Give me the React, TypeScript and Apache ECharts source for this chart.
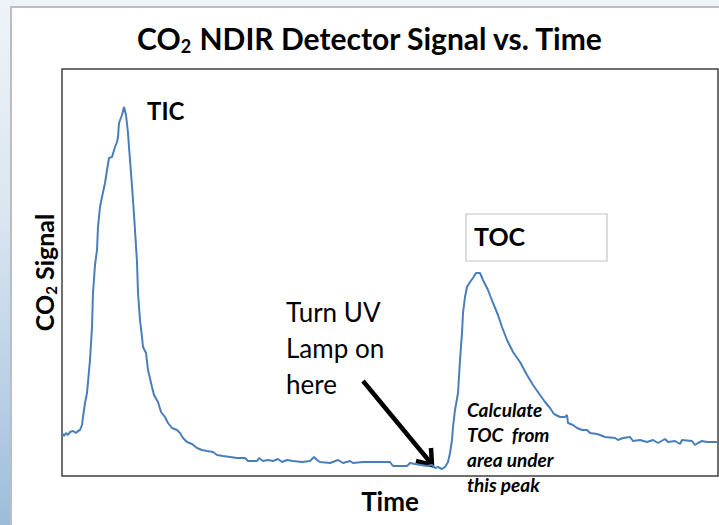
import React, { useEffect, useRef } from "react";
import * as echarts from "echarts";

// Time (arbitrary units) and CO2 signal (arbitrary units)
const time = [
  0, 2, 4, 6, 8, 11, 14, 16, 18, 20, 21, 23, 25, 28, 30, 31, 33, 35, 36, 38, 40, 43, 45, 47, 50, 53, 55, 56, 57, 60,
  62, 64, 66, 67, 69, 71, 73, 75, 76, 78, 80, 81, 84, 86, 90, 92, 96, 99, 103, 106, 110, 115, 118, 121, 125, 130,
  135, 140, 145, 151, 155, 161, 168, 175, 183, 186, 195, 197, 201, 206, 211, 216, 220, 225, 231, 240, 248, 252, 255,
  258, 268, 276, 281, 288, 291, 301, 315, 328, 331, 345, 348, 353, 365, 370, 373, 376, 380, 383, 386, 388, 390, 391,
  393, 396, 398, 400, 401, 403, 405, 408, 411, 414, 418, 421, 426, 431, 436, 440, 445, 451, 458, 465, 471, 478, 483,
  488, 492, 498, 503, 505, 506, 511, 515, 520, 525, 528, 535, 538, 543, 553, 556, 561, 568, 571, 578, 585, 591, 596,
  603, 606, 613, 618, 620, 630, 633, 636, 640, 645, 653, 656,
];
const signal = [
  43, 40, 43, 41, 44, 45, 43, 45, 46, 51, 59, 73, 83, 116, 149, 183, 211, 226, 249, 269, 279, 293, 306, 318, 319, 329,
  334, 339, 353, 361, 369, 361, 343, 329, 303, 276, 246, 214, 183, 156, 139, 129, 123, 106, 89, 81, 74, 64, 59, 53,
  48, 46, 43, 38, 34, 32, 28, 26, 25, 24, 21, 20, 19, 18, 18, 15, 15, 18, 15, 16, 15, 17, 14, 16, 15, 14, 15, 19, 16,
  14, 13, 16, 13, 15, 13, 14, 14, 14, 10, 10, 13, 12, 10, 11, 8, 9, 7, 9, 14, 23, 36, 49, 66, 83, 116, 143, 163, 179,
  189, 194, 198, 203, 203, 196, 186, 173, 161, 149, 136, 124, 114, 101, 91, 81, 74, 68, 62, 59, 59, 61, 53, 51, 48,
  46, 46, 43, 42, 41, 39, 38, 36, 38, 39, 35, 36, 34, 36, 33, 37, 34, 35, 32, 36, 35, 31, 33, 35, 34, 34, 34,
];

const titleText = "{a|CO}{s|2}{a| NDIR Detector Signal vs. Time}";
const yName = "{a|CO}{s|2}{a| Signal}";
const xName = "Time";
const ticLabel = "TIC";
const tocLabel = "TOC";
const uvNote = "Turn UV\nLamp on\nhere";
const calcNote = "Calculate\nTOC  from\narea under\nthis peak";

const FONT = "Lato, 'Open Sans', sans-serif";

export default function App() {
  const ref = useRef<HTMLDivElement>(null);
  useEffect(() => {
    if (!ref.current) return;
    const chart = echarts.init(ref.current, undefined, { renderer: "svg" });
    const data = time.map((t, i) => [t, signal[i]]);
    const tip = [432, 465];
    chart.setOption({
      animation: false,
      grid: {
        left: 62,
        top: 69,
        width: 656,
        height: 407,
        show: true,
        borderColor: "#404040",
        borderWidth: 1.5,
        backgroundColor: "#ffffff",
      },
      xAxis: {
        type: "value",
        min: 0,
        max: 656,
        axisLine: { show: false },
        axisTick: { show: false },
        axisLabel: { show: false },
        splitLine: { show: false },
        name: xName,
        nameLocation: "middle",
        nameGap: 12,
        nameTextStyle: { fontFamily: FONT, fontWeight: "bold", fontSize: 26, color: "#000" },
      },
      yAxis: {
        type: "value",
        min: 0,
        max: 407,
        axisLine: { show: false },
        axisTick: { show: false },
        axisLabel: { show: false },
        splitLine: { show: false },
        name: yName,
        nameLocation: "middle",
        nameRotate: 90,
        nameGap: 4,
        nameTextStyle: {
          rich: {
            a: { fontFamily: FONT, fontWeight: "bold", fontSize: 25, color: "#000", lineHeight: 28 },
            s: { fontFamily: FONT, fontWeight: "bold", fontSize: 15, color: "#000", lineHeight: 15, padding: [14, 0, 0, 0] },
          },
        },
      },
      series: [
        {
          type: "line",
          data,
          showSymbol: false,
          lineStyle: { color: "#4a7ebb", width: 2 },
          itemStyle: { color: "#4a7ebb" },
        },
      ],
      graphic: [
        {
          type: "text",
          x: 370,
          y: 38,
          style: {
            text: titleText,
            align: "center",
            verticalAlign: "middle",
            rich: {
              a: { fontFamily: FONT, fontWeight: "bold", fontSize: 30, fill: "#000", lineHeight: 34 },
              s: { fontFamily: FONT, fontWeight: "bold", fontSize: 18, fill: "#000", lineHeight: 18, padding: [16, 0, 0, 0] },
            },
          },
        },
        {
          type: "text",
          x: 147,
          y: 110,
          style: { text: ticLabel, fontFamily: FONT, fontWeight: "bold", fontSize: 24, fill: "#000", verticalAlign: "middle" },
        },
        {
          type: "rect",
          shape: { x: 466, y: 214, width: 141, height: 47 },
          style: { fill: "#fff", stroke: "#c4c4c4", lineWidth: 1.2 },
        },
        {
          type: "text",
          x: 474,
          y: 236,
          style: { text: tocLabel, fontFamily: FONT, fontWeight: "bold", fontSize: 25, fill: "#000", verticalAlign: "middle" },
        },
        {
          type: "text",
          x: 286,
          y: 294,
          style: { text: uvNote, fontFamily: FONT, fontSize: 26, lineHeight: 36, fill: "#000", verticalAlign: "top" },
        },
        {
          type: "line",
          shape: { x1: 363, y1: 381, x2: tip[0] - 2, y2: tip[1] - 3 },
          style: { stroke: "#000", lineWidth: 4.5 },
        },
        {
          type: "polyline",
          shape: { points: [[431, 448], tip, [416, 461]] },
          style: { stroke: "#000", lineWidth: 4.5, fill: null },
        },
        {
          type: "text",
          x: 467,
          y: 397,
          style: {
            text: calcNote,
            fontFamily: FONT,
            fontWeight: "bold",
            fontStyle: "italic",
            fontSize: 19,
            lineHeight: 25,
            fill: "#000",
            verticalAlign: "top",
          },
        },
      ],
    });
    return () => chart.dispose();
  }, []);

  return (
    <div
      style={{
        position: "absolute",
        left: 0,
        top: 0,
        width: 719,
        height: 525,
        overflow: "hidden",
        background: "linear-gradient(180deg, #eef3f9 0%, #dbe6f1 40%, #b9cfe5 75%, #9dbcda 100%)",
      }}
    >
      <div
        style={{
          position: "absolute",
          left: 10,
          top: 6,
          width: 730,
          height: 540,
          background: "#ffffff",
          border: "2px solid #bdbdbd",
        }}
      />
      <div ref={ref} style={{ position: "absolute", left: 0, top: 0, width: 719, height: 525 }} />
    </div>
  );
}
